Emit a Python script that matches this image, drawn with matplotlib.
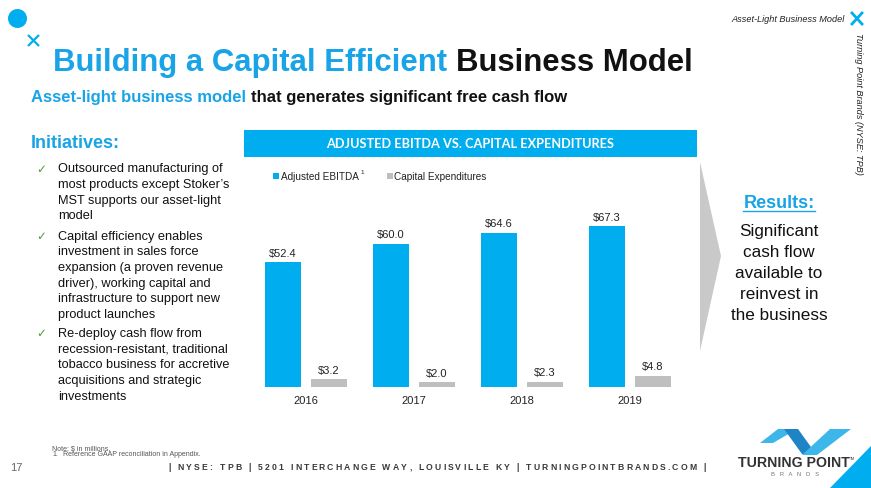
import numpy as np
import matplotlib
matplotlib.use("Agg")
import matplotlib.pyplot as plt
from matplotlib.patches import Rectangle, Circle, Polygon

# ---------------- data ----------------
categories = ['2016', '2017', '2018', '2019']
ebitda = [52.4, 60.0, 64.6, 67.3]
capex = [3.2, 2.0, 2.3, 4.8]
series_names = ['Adjusted EBITDA', 'Capital Expenditures']
chart_title = 'ADJUSTED EBITDA VS. CAPITAL EXPENDITURES'
title_blue = 'Building a Capital Efficient '
title_black = 'Business Model'
sub_blue = 'Asset-light business model '
sub_black = 'that generates significant free cash flow'
bullets = [
    ['Outsourced manufacturing of', 'most products except Stoker\u2019s',
     'MST supports our asset-light', 'model'],
    ['Capital efficiency enables', 'investment in sales force',
     'expansion (a proven revenue', 'driver), working capital and',
     'infrastructure to support new', 'product launches'],
    ['Re-deploy cash flow from', 'recession-resistant, traditional',
     'tobacco business for accretive', 'acquisitions and strategic',
     'investments'],
]
results_lines = ['Significant', 'cash flow', 'available to', 'reinvest in', 'the business']
footer = '| NYSE: TPB | 5201 INTERCHANGE WAY, LOUISVILLE KY | TURNINGPOINTBRANDS.COM |'

BLUE = '#00AEEF'
TBLUE = '#18A4E6'
GRAY = '#BFBFBF'
FONT = 'Liberation Sans'

plt.rcParams['font.family'] = [FONT, 'DejaVu Sans']

W, H = 871, 489
fig = plt.figure(figsize=(W / 100, H / 100), dpi=100)
ov = fig.add_axes([0, 0, 1, 1])
ov.set_xlim(0, W)
ov.set_ylim(H, 0)
ov.axis('off')

# decorations top-left
ov.add_patch(Circle((17.5, 19.5), 9.5, color=BLUE, lw=0))
ov.plot([28, 39], [36, 47], color=BLUE, lw=1.6, solid_capstyle='butt')
ov.plot([28, 39], [47, 36], color=BLUE, lw=1.6, solid_capstyle='butt')

# title
t1 = ov.text(53, 71, title_blue, fontsize=22.4, fontweight='bold', color=TBLUE,
             ha='left', va='baseline')
ov.annotate(title_black, xy=(1, 0), xycoords=t1, fontsize=22.4, fontweight='bold',
            color='#111111', ha='left', va='bottom')
s1 = ov.text(31, 102, sub_blue, fontsize=12, fontweight='bold', color=TBLUE,
             ha='left', va='baseline')
ov.annotate(sub_black, xy=(1, 0), xycoords=s1, fontsize=12, fontweight='bold',
            color='#111111', ha='left', va='bottom')

# top-right
ov.text(845, 20, 'Asset-Light Business Model', fontsize=6.6, style='italic',
        color='#222222', ha='right', va='center')
ov.plot([852, 862], [14, 25], color=BLUE, lw=2)
ov.plot([852, 862], [25, 14], color=BLUE, lw=2)
ov.text(858, 104, 'Turning Point Brands (NYSE: TPB)', fontsize=6.6, style='italic',
        color='#222222', ha='center', va='center', rotation=-90)

# Initiatives
ov.text(31, 143, 'Initiatives:', fontsize=13, fontweight='bold', color=TBLUE,
        ha='left', va='center')
dy = 15.65
starts = [169.3, 236.7, 334.0]
for blk, y0 in zip(bullets, starts):
    ov.text(41.5, y0, '\u2713', fontsize=8.5, color='#4C9A3C', ha='center', va='center',
            family='DejaVu Sans')
    for i, line in enumerate(blk):
        ov.text(58, y0 + i * dy, line, fontsize=9.2, color='#111111', ha='left',
                va='center')

# banner
ov.add_patch(Rectangle((244, 131), 453, 26.5, color=BLUE, lw=0))
ov.text(470.5, 144.5, chart_title, fontsize=9.2, fontweight='bold', color='white',
        ha='center', va='center', family=['Lato', 'DejaVu Sans'])

# legend
ov.add_patch(Rectangle((273, 173.5), 6, 6, color=BLUE, lw=0))
lt = ov.text(281, 177, series_names[0], fontsize=7.2, color='#222222', ha='left',
             va='center')
ov.annotate('1', xy=(1, 0.75), xycoords=lt, fontsize=4.5, color='#222222',
            ha='left', va='bottom', xytext=(0.8, 0), textcoords='offset points')
ov.add_patch(Rectangle((387, 173.5), 6, 6, color=GRAY, lw=0))
ov.text(394, 177, series_names[1], fontsize=7.2, color='#222222', ha='left',
        va='center')

# chart
base_y, top_y = 388, 200
ppu = 2.39
gap = 108.0
c0 = 305.6
ax = fig.add_axes([244 / W, (H - base_y) / H, 453 / W, (base_y - top_y) / H])
ax.patch.set_alpha(0)
x = np.arange(len(categories))
off = 23 / gap
bw = 36 / gap
ax.bar(x - off, ebitda, width=bw, color=BLUE, lw=0)
ax.bar(x + off, capex, width=bw, color=GRAY, lw=0)
ax.set_xlim((244 - c0) / gap, (697 - c0) / gap)
ax.set_ylim(0, (base_y - top_y) / ppu)
for xi, v in zip(x - off, ebitda):
    ax.annotate(f'${v:.1f}', (xi, v), xytext=(0, 3), textcoords='offset points',
                ha='center', va='bottom', fontsize=8, color='#222222')
for xi, v in zip(x + off, capex):
    ax.annotate(f'${v:.1f}', (xi, v), xytext=(0, 3), textcoords='offset points',
                ha='center', va='bottom', fontsize=8, color='#222222')
ax.set_xticks(x)
ax.set_xticklabels(categories, fontsize=8, color='#222222')
ax.tick_params(axis='x', length=0, pad=6)
ax.set_yticks([])
for sp in ax.spines.values():
    sp.set_visible(False)

# chevron
ov.add_patch(Polygon([(700, 163), (721, 257), (700, 352)], closed=True,
                     color='#C9C9C9', lw=0))

# results
ov.text(779, 203, 'Results:', fontsize=13, fontweight='bold', color=TBLUE,
        ha='center', va='center')
ov.plot([743, 815], [211.5, 211.5], color=TBLUE, lw=1)
for i, line in enumerate(results_lines):
    ov.text(779, 231.7 + i * 21, line, fontsize=12.3, color='#111111', ha='center',
            va='center')

# notes & footer
ov.text(52, 449, 'Note: $ in millions.', fontsize=5.0, color='#555555', ha='left',
        va='center')
ov.text(52, 455, '1.', fontsize=5.0, color='#555555', ha='left', va='center')
ov.text(63, 455, 'Reference GAAP reconciliation in Appendix.', fontsize=5.0,
        color='#555555', ha='left', va='center')
ov.text(10, 468, '17', fontsize=8, color='#666666', ha='left', va='center')

# footer with letter tracking
fig.canvas.draw()
rend = fig.canvas.get_renderer()
fsz = 6.2
widths = []
for ch in footer:
    tmp = ov.text(0, 0, ch if ch != ' ' else 'n', fontsize=fsz, fontweight='bold')
    w = tmp.get_window_extent(renderer=rend).width
    if ch == ' ':
        w *= 0.55
    widths.append(w)
    tmp.remove()
x0, x1 = 168.0, 706.0
extra = (x1 - x0 - sum(widths)) / (len(footer) - 1)
cx = x0
for ch, w in zip(footer, widths):
    if ch != ' ':
        ov.text(cx, 468, ch, fontsize=fsz, fontweight='bold', color='#3A3A3A',
                ha='left', va='center')
    cx += w + extra

# logo
LB = '#3DB7EA'
DB = '#1F84C6'
ov.add_patch(Polygon([(760, 444), (773, 444), (797, 430), (778, 430)], color=LB, lw=0))
ov.add_patch(Polygon([(784, 430), (798, 430), (816, 455), (802, 455)], color=DB, lw=0))
ov.add_patch(Polygon([(802, 456), (817, 456), (851, 430), (830, 430)], color=LB, lw=0))
tp = ov.text(738, 463, 'TURNING POINT', fontsize=10.2, fontweight='bold',
             color='#333333', ha='left', va='center')
ov.annotate('TM', xy=(1, 0.9), xycoords=tp, fontsize=2.5, color='#333333',
            ha='left', va='top')
ov.text(795, 474, 'B   R   A   N   D   S', fontsize=4.2, color='#777777',
        ha='center', va='center')
ov.add_patch(Polygon([(830, 489), (871, 447), (871, 489)], color=BLUE, lw=0))

fig.savefig('out.png', dpi=100)
